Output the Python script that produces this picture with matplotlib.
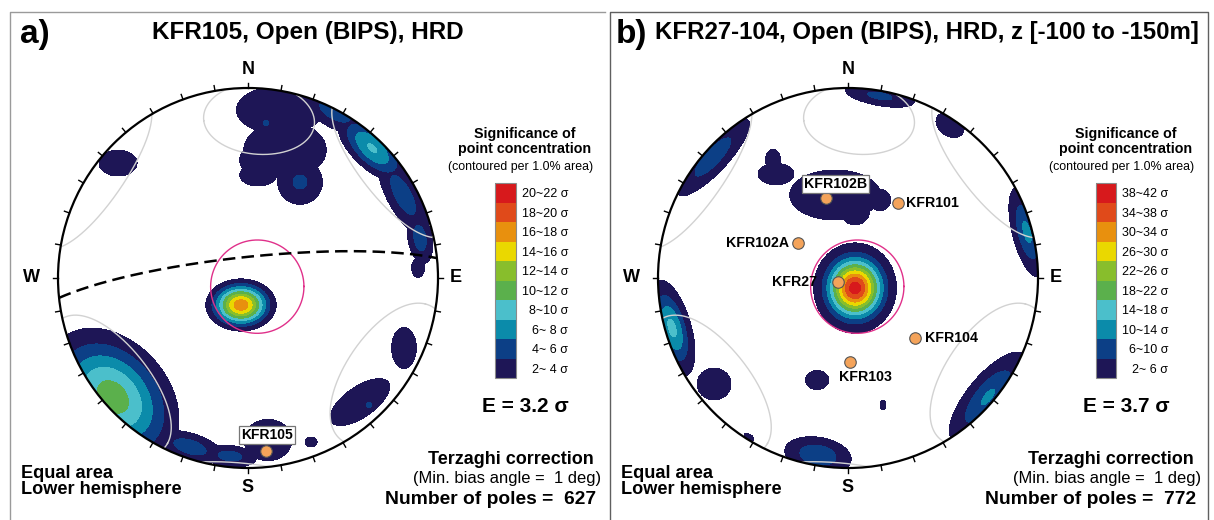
import numpy as np
import matplotlib.pyplot as plt
from matplotlib.patches import Circle

plt.rcParams['font.family'] = ['Liberation Sans', 'DejaVu Sans']

# ---- data -------------------------------------------------------------
colors = ['#1e1656', '#0c3f86', '#0b8baa', '#4bbfcb', '#5bb04c',
          '#88be2c', '#ead800', '#e8900e', '#e04a1a', '#d7191c']

a_levels = [2, 4, 6, 8, 10, 12, 14, 16, 18, 20, 22]
b_levels = [2, 6, 10, 14, 18, 22, 26, 30, 34, 38, 42]

# density clusters on the net (unit primitive): centre, spread, rotation, peak (sigma)
a_bx = [-0.037, 0.168, 0.195, 0.274, 0.053, 0.095, 0.021,
        0.263, 0.458, 0.653, 0.816, 0.905, 0.895,
        -0.684, -0.711, -0.305, -0.095, 0.105, 0.332, 0.821, 0.589, 0.637]
a_by = [-0.142, 0.884, 0.674, 0.505, 0.542, 0.816, 0.621,
        0.947, 0.874, 0.684, 0.437, 0.210, 0.053,
        0.605, -0.626, -0.889, -0.937, -0.853, -0.863, -0.368, -0.653, -0.668]
a_sx = [0.089, 0.211, 0.200, 0.095, 0.089, 0.026, 0.063,
        0.132, 0.147, 0.137, 0.170, 0.100, 0.032,
        0.100, 0.221, 0.132, 0.105, 0.116, 0.032, 0.063, 0.168, 0.026]
a_sy = [0.066, 0.116, 0.137, 0.095, 0.053, 0.026, 0.063,
        0.053, 0.063, 0.063, 0.063, 0.047, 0.047,
        0.068, 0.158, 0.053, 0.042, 0.100, 0.026, 0.105, 0.074, 0.026]
a_ang = [0, 0, 0, 0, 0, 0, 0,
         -16, -28, -44, -62, -80, 0,
         0, -48.6, -17, -6, 0, 0, 0, 35, 0]
a_peak = [17.4, 3.6, 3.6, 4.3, 3.6, 4.5, 3.4,
          3.8, 4.8, 8.2, 5.0, 5.0, 3.5,
          3.3, 11.0, 5.0, 4.8, 3.6, 3.3, 3.4, 3.6, 4.6]

b_bx = [0.037, -0.068, 0.037, 0.168, -0.379, -0.395, -0.711, 0.168, 0.537, 0.942, -0.926,
        -0.705, -0.163, 0.184, 0.737, -0.158, -0.521]
b_by = [-0.053, 0.437, 0.358, 0.411, 0.547, 0.621, 0.637, 0.958, 0.805, 0.242, -0.263,
        -0.558, -0.537, -0.668, -0.626, -0.932, -0.837]
b_sx = [0.089, 0.211, 0.074, 0.053, 0.089, 0.037, 0.158, 0.116, 0.074, 0.130, 0.130,
        0.084, 0.058, 0.016, 0.160, 0.100, 0.032]
b_sy = [0.097, 0.116, 0.074, 0.053, 0.053, 0.053, 0.047, 0.032, 0.053, 0.042, 0.050,
        0.079, 0.047, 0.026, 0.060, 0.053, 0.016]
b_ang = [0, 0, 0, 0, 0, 0, 47.2, -10, -33.7, -76, -74,
         0, 0, 0, 50.5, -9.6, -32]
b_peak = [40, 3.8, 3.5, 3.5, 3.5, 3.5, 8.5, 7, 3.6, 11, 15,
          3.5, 3.5, 3.2, 10.5, 9.5, 3]

# boreholes (net coordinates)
a_holes = ['KFR105']
a_hx = [0.095]
a_hy = [-0.911]
b_holes = ['KFR102B', 'KFR101', 'KFR102A', 'KFR27', 'KFR104', 'KFR103']
b_hx = [-0.116, 0.261, -0.263, -0.053, 0.351, 0.011]
b_hy = [0.421, 0.395, 0.184, -0.021, -0.316, -0.442]

# grey blind-zone cones: trend, plunge, half apex angle (deg)
cone_trend = [4, 124.5, 232]
cone_plunge = [16, 7, 4]
cone_half = [19, 26, 26]
# pink cone around the vertical
pink_cone = (133, 84.5, 20)
# dashed plane in a): dip direction, dip
a_plane = (354, 81)

a_E, b_E = 3.2, 3.7
a_npoles, b_npoles = 627, 772


# ---- helpers ----------------------------------------------------------
def project(n, e, d):
    hr = np.hypot(n, e)
    hr = np.where(hr == 0, 1, hr)
    r = np.sqrt(np.clip(1 - d, 0, 2))
    return r * e / hr, r * n / hr


def small_circle(trend, plunge, half, num=721):
    t, p, h = np.radians([trend, plunge, half])
    a = np.array([np.cos(p) * np.cos(t), np.cos(p) * np.sin(t), np.sin(p)])
    ref = np.array([0, 0, 1.0]) if abs(a[2]) < 0.9 else np.array([1.0, 0, 0])
    u = np.cross(a, ref)
    u /= np.linalg.norm(u)
    v = np.cross(a, u)
    w = np.linspace(0, 2 * np.pi, num)
    pts = np.cos(h) * a[:, None] + np.sin(h) * (np.cos(w) * u[:, None] + np.sin(w) * v[:, None])
    up = pts[2] < 0
    pts[:, up] *= -1
    x, y = project(*pts)
    flips = np.where(np.diff(up.astype(int)) != 0)[0] + 1
    return np.insert(x, flips, np.nan), np.insert(y, flips, np.nan)


def great_circle(dipdir, dip, num=400):
    dd, dp = np.radians([dipdir, dip])
    st = dd - np.pi / 2
    s = np.array([np.cos(st), np.sin(st), 0])
    d = np.array([np.cos(dp) * np.cos(dd), np.cos(dp) * np.sin(dd), np.sin(dp)])
    phi = np.linspace(0, np.pi, num)
    pts = np.cos(phi) * s[:, None] + np.sin(phi) * d[:, None]
    return project(*pts)


def density(X, Y, bx, by, sx, sy, ang, peak):
    Z = np.zeros_like(X)
    for x0, y0, s1, s2, an, A in zip(bx, by, sx, sy, ang, peak):
        c, s = np.cos(np.radians(an)), np.sin(np.radians(an))
        u = (X - x0) * c + (Y - y0) * s
        v = -(X - x0) * s + (Y - y0) * c
        Z = np.maximum(Z, A * np.exp(-0.5 * ((u / s1) ** 2 + (v / s2) ** 2)))
    return Z


def stereonet(ax, blobs, levels):
    g = np.linspace(-1.02, 1.02, 520)
    X, Y = np.meshgrid(g, g)
    Z = density(X, Y, *blobs)
    cs = ax.contourf(X, Y, Z, levels=levels, colors=colors, zorder=1)
    cs.set_clip_path(Circle((0, 0), 1, transform=ax.transData))
    for tr, pl, hf in zip(cone_trend, cone_plunge, cone_half):
        x, y = small_circle(tr, pl, hf)
        ax.plot(x, y, color='#d2d2d2', lw=1.0, zorder=2)
    x, y = small_circle(*pink_cone)
    ax.plot(x, y, color='#e0308a', lw=1.0, zorder=3)
    ax.add_patch(Circle((0, 0), 1, fill=False, lw=1.6, ec='black', zorder=4))
    for az in np.radians(np.arange(0, 360, 10)):
        ax.plot([np.sin(az), 1.028 * np.sin(az)], [np.cos(az), 1.028 * np.cos(az)],
                color='black', lw=1.0, zorder=4)
    for lab, (x, y) in zip('NESW', [(0, 1.095), (1.095, 0), (0, -1.105), (-1.137, 0)]):
        ax.text(x, y, lab, ha='center', va='center', fontsize=13, fontweight='bold')
    ax.set_xlim(-1.22, 1.22)
    ax.set_ylim(-1.22, 1.22)
    ax.set_aspect('equal')
    ax.axis('off')
    return cs


def colorbar(cs, cax, levels):
    mids = [(lo + hi) / 2 for lo, hi in zip(levels[:-1], levels[1:])]
    labels = [f'{lo}~{hi:2d} σ' for lo, hi in zip(levels[:-1], levels[1:])]
    cb = fig.colorbar(cs, cax=cax, ticks=mids)
    cb.set_ticklabels(labels)
    cb.ax.tick_params(length=0, pad=37.5, labelsize=9)
    for t in cb.ax.get_yticklabels():
        t.set_ha('right')
    cb.outline.set_edgecolor('#8a8a8a')
    cb.outline.set_linewidth(0.8)


# ---- figure -----------------------------------------------------------
W, H = 1214, 520
fig = plt.figure(figsize=(W / 100, H / 100), dpi=100)

over = fig.add_axes([0, 0, 1, 1])
over.set_xlim(0, W)
over.set_ylim(H, 0)
over.axis('off')

R = 190
L = 1.22 * R
ax_a = fig.add_axes([(248 - L) / W, (H - 278 - L) / H, 2 * L / W, 2 * L / H])
ax_b = fig.add_axes([(848 - L) / W, (H - 278 - L) / H, 2 * L / W, 2 * L / H])

cs_a = stereonet(ax_a, (a_bx, a_by, a_sx, a_sy, a_ang, a_peak), a_levels)
cs_b = stereonet(ax_b, (b_bx, b_by, b_sx, b_sy, b_ang, b_peak), b_levels)

x, y = great_circle(*a_plane)
ax_a.plot(x, y, color='black', lw=1.8, dashes=(5, 2.5), zorder=5)

dot = dict(marker='o', ms=8.3, mfc='#f4a35a', mec='#555555', mew=0.8, ls='none', zorder=6)
box = dict(boxstyle='square,pad=0.15', fc='white', ec='#777777', lw=0.9)
ax_a.plot(a_hx, a_hy, **dot)
ax_b.plot(b_hx, b_hy, **dot)
ax_a.annotate(a_holes[0], (a_hx[0], a_hy[0]), xytext=(0.5, 11.5), textcoords='offset points',
              ha='center', va='center', fontsize=10, fontweight='bold', bbox=box, zorder=7)
b_offsets = [(7, 10), (6, 0), (-6.5, 0), (-15, 0), (7.5, 0), (11, -11)]
b_ha = ['center', 'left', 'right', 'right', 'left', 'center']
for i, name in enumerate(b_holes):
    ax_b.annotate(name, (b_hx[i], b_hy[i]), xytext=b_offsets[i], textcoords='offset points',
                  ha=b_ha[i], va='center', fontsize=10.2, fontweight='bold',
                  bbox=box if i == 0 else None, zorder=7)

cax_a = fig.add_axes([495 / W, (H - 378) / H, 21 / W, 195 / H])
cax_b = fig.add_axes([1096 / W, (H - 378) / H, 20 / W, 195 / H])
colorbar(cs_a, cax_a, a_levels)
colorbar(cs_b, cax_b, b_levels)

# panel frames
over.plot([10, 10, 605], [H, 12, 12], color='#9a9a9a', lw=1)
over.plot([610, 610, 1208, 1208], [H, 12, 12, H], color='#606060', lw=1)

# titles
over.text(20, 35, 'a)', fontsize=24, fontweight='bold', va='center')
over.text(308, 33, 'KFR105, Open (BIPS), HRD', fontsize=17.5, fontweight='bold',
          ha='center', va='center')
over.text(616, 35, 'b)', fontsize=24, fontweight='bold', va='center')
over.text(655, 33, 'KFR27-104, Open (BIPS), HRD, z [-100 to -150m]', fontsize=17.3,
          fontweight='bold', ha='left', va='center')

for cx, off, e, npol in [(525, 0, a_E, a_npoles), (1126, 600, b_E, b_npoles)]:
    over.text(cx, 134, 'Significance of', fontsize=10.3, fontweight='bold', ha='center', va='center')
    over.text(cx, 149, 'point concentration', fontsize=10.3, fontweight='bold', ha='center', va='center')
    over.text(cx - 4, 167, '(contoured per 1.0% area)', fontsize=8.9, ha='center', va='center')
    over.text(cx, 407, f'E = {e} σ', fontsize=15, fontweight='bold', ha='center', va='center')
    over.text(21 + off, 473, 'Equal area', fontsize=13.1, fontweight='bold', va='center')
    over.text(21 + off, 490, 'Lower hemisphere', fontsize=13.1, fontweight='bold', va='center')
    over.text(594 + off, 460, 'Terzaghi correction', fontsize=13, fontweight='bold',
              ha='right', va='center')
    over.text(601 + off, 478, '(Min. bias angle =  1 deg)', fontsize=11.9, ha='right', va='center')
    over.text(596 + off, 500, f'Number of poles =  {npol}', fontsize=13.9, fontweight='bold',
              ha='right', va='center')

fig.savefig('out.png', dpi=100, facecolor='white')
